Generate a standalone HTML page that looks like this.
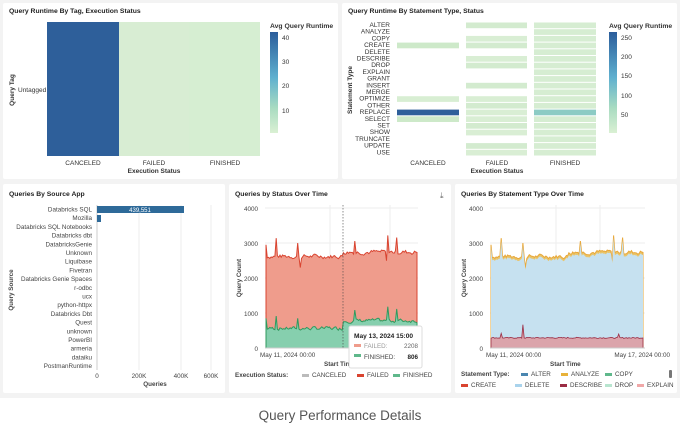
<!DOCTYPE html>
<html><head><meta charset="utf-8"><style>
html,body{margin:0;padding:0;background:#fff;}
svg{display:block;font-family:"Liberation Sans",sans-serif;}
</style></head><body>
<svg id="s" width="680" height="425" viewBox="0 0 680 425" xmlns="http://www.w3.org/2000/svg">
<rect x="0" y="0" width="680" height="398" fill="#f3f3f3"/>
<rect x="3" y="3" width="335" height="176" fill="#fff" rx="2"/>
<rect x="342" y="3" width="335" height="176" fill="#fff" rx="2"/>
<rect x="3" y="184" width="222" height="209" fill="#fff" rx="2"/>
<rect x="229" y="184" width="222" height="209" fill="#fff" rx="2"/>
<rect x="455" y="184" width="222" height="209" fill="#fff" rx="2"/>
<defs><linearGradient id="cb" x1="0" y1="0" x2="0" y2="1">
<stop offset="0" stop-color="#2b5d9b"/><stop offset="0.45" stop-color="#5fb0cf"/><stop offset="0.75" stop-color="#a8dbc1"/><stop offset="1" stop-color="#daf0d3"/></linearGradient></defs>

<g font-size="6.5" fill="#333">
<text x="9" y="13" font-weight="bold" font-size="6.8" fill="#222">Query Runtime By Tag, Execution Status</text>
<rect x="47" y="22" width="72" height="134" fill="#2e5f9a"/>
<rect x="119" y="22" width="70" height="134" fill="#d8edd3"/>
<rect x="189" y="22" width="71" height="134" fill="#d6eed2"/>
<text x="18" y="92">Untagged</text>
<text transform="translate(14,90) rotate(-90)" text-anchor="middle" font-weight="bold">Query Tag</text>
<text x="83" y="165" text-anchor="middle">CANCELED</text>
<text x="154" y="165" text-anchor="middle">FAILED</text>
<text x="225" y="165" text-anchor="middle">FINISHED</text>
<text x="154" y="173" text-anchor="middle" font-weight="bold">Execution Status</text>
<text x="270" y="28" font-weight="bold" font-size="6.8">Avg Query Runtime</text>
<rect x="270" y="32" width="8" height="101" fill="url(#cb)"/>
<text x="282" y="40">40</text><text x="282" y="64">30</text><text x="282" y="88">20</text><text x="282" y="113">10</text>
</g>

<g font-size="6.5" fill="#333" id="tr">
<text x="348" y="13" font-weight="bold" font-size="6.8" fill="#222">Query Runtime By Statement Type, Status</text>
<text transform="translate(352,90) rotate(-90)" text-anchor="middle" font-weight="bold">Statement Type</text>
<text x="428" y="165" text-anchor="middle">CANCELED</text>
<text x="497" y="165" text-anchor="middle">FAILED</text>
<text x="565" y="165" text-anchor="middle">FINISHED</text>
<text x="497" y="173" text-anchor="middle" font-weight="bold">Execution Status</text>
<text x="609" y="28" font-weight="bold" font-size="6.8">Avg Query Runtime</text>
<rect x="609" y="32" width="8" height="101" fill="url(#cb)"/>
<text x="621" y="40">250</text><text x="621" y="59">200</text><text x="621" y="78">150</text><text x="621" y="98">100</text><text x="621" y="117">50</text>
</g>

<g font-size="6.3" fill="#444" id="bl">
<text x="9" y="196" font-weight="bold" font-size="6.8" fill="#222">Queries By Source App</text>
<line x1="139" y1="205" x2="139" y2="370" stroke="#eee"/>
<line x1="181" y1="205" x2="181" y2="370" stroke="#eee"/>
<line x1="211" y1="205" x2="211" y2="370" stroke="#eee"/>
<line x1="97" y1="205" x2="97" y2="370" stroke="#ccc"/>
<rect x="97" y="206" width="87" height="7" fill="#2e6a99"/>
<text x="140" y="212" fill="#fff" text-anchor="middle" font-size="6">439,551</text>
<rect x="97" y="215" width="4" height="7" fill="#2e6a99"/>
<text x="97" y="378" text-anchor="middle">0</text>
<text x="139" y="378" text-anchor="middle">200K</text>
<text x="181" y="378" text-anchor="middle">400K</text>
<text x="211" y="378" text-anchor="middle">600K</text>
<text x="155" y="386" text-anchor="middle" font-weight="bold">Queries</text>
<text transform="translate(13,290) rotate(-90)" text-anchor="middle" font-weight="bold">Query Source</text>
</g>

<g font-size="6.3" fill="#444">
<text x="235" y="196" font-weight="bold" font-size="6.8" fill="#222">Queries by Status Over Time</text>
<text x="440" y="198" font-size="8" fill="#666">⤓</text>
<g stroke="#eee"><line x1="265" y1="208" x2="418" y2="208"/><line x1="265" y1="243" x2="418" y2="243"/><line x1="265" y1="278" x2="418" y2="278"/><line x1="265" y1="313" x2="418" y2="313"/><line x1="330" y1="205" x2="330" y2="348"/><line x1="390" y1="205" x2="390" y2="348"/></g>
<path id="mRed" fill="#ef9c8c" stroke="#d94430" stroke-width="1"/>
<path id="mGreen" fill="#86cfae" stroke="#2f9a5e" stroke-width="1"/>
<line x1="265" y1="348" x2="418" y2="348" stroke="#ccc"/>
<line x1="343" y1="205" x2="343" y2="348" stroke="#444" stroke-width="0.6" stroke-dasharray="1.5,1.5"/>
<text x="258" y="211" text-anchor="end">4000</text><text x="258" y="246" text-anchor="end">3000</text><text x="258" y="281" text-anchor="end">2000</text><text x="258" y="316" text-anchor="end">1000</text><text x="258" y="351" text-anchor="end">0</text>
<text transform="translate(241,278) rotate(-90)" text-anchor="middle" font-weight="bold">Query Count</text>
<text x="260" y="357">May 11, 2024 00:00</text>
<text x="422" y="357" text-anchor="end">24 00:00</text>
<text x="324" y="366" font-weight="bold">Start Time</text>
<rect x="349" y="326" width="73" height="42" fill="#fff" stroke="#ddd" rx="2"/>
<text x="354" y="338" font-weight="bold" font-size="6.6" fill="#222">May 13, 2024 15:00</text>
<rect x="354" y="344" width="7" height="3" fill="#ef9c8c"/><text x="364" y="348" fill="#999">FAILED:</text><text x="418" y="348" text-anchor="end" fill="#666">2208</text>
<rect x="354" y="354" width="7" height="3" fill="#5fb88b"/><text x="364" y="359">FINISHED:</text><text x="418" y="359" text-anchor="end" font-weight="bold" fill="#222">806</text>
<text x="235" y="377" font-weight="bold">Execution Status:</text>
<rect x="302" y="374" width="7" height="3" fill="#bbb"/><text x="312" y="377">CANCELED</text>
<rect x="357" y="374" width="7" height="3" fill="#d94430"/><text x="367" y="377">FAILED</text>
<rect x="393" y="374" width="7" height="3" fill="#5fb88b"/><text x="403" y="377">FINISHED</text>
</g>

<g font-size="6.3" fill="#444">
<text x="461" y="196" font-weight="bold" font-size="6.8" fill="#222">Queries By Statement Type Over Time</text>
<g stroke="#eee"><line x1="490" y1="208" x2="645" y2="208"/><line x1="490" y1="243" x2="645" y2="243"/><line x1="490" y1="278" x2="645" y2="278"/><line x1="490" y1="313" x2="645" y2="313"/><line x1="556" y1="205" x2="556" y2="348"/><line x1="600" y1="205" x2="600" y2="348"/></g>
<path id="rOr" fill="#e9c46a" stroke="#e8a83a" stroke-width="1"/>
<path id="rBlue" fill="#c6e1f0"/>
<path id="rPink" fill="#dba4ab" stroke="#9b2c44" stroke-width="0.8"/>
<line x1="490" y1="348" x2="645" y2="348" stroke="#ccc"/>
<text x="483" y="211" text-anchor="end">4000</text><text x="483" y="246" text-anchor="end">3000</text><text x="483" y="281" text-anchor="end">2000</text><text x="483" y="316" text-anchor="end">1000</text><text x="483" y="351" text-anchor="end">0</text>
<text transform="translate(466,278) rotate(-90)" text-anchor="middle" font-weight="bold">Query Count</text>
<text x="486" y="357">May 11, 2024 00:00</text>
<text x="670" y="357" text-anchor="end">May 17, 2024 00:00</text>
<text x="550" y="366" font-weight="bold">Start Time</text>
<text x="461" y="376" font-weight="bold">Statement Type:</text>
<rect x="521" y="373" width="7" height="3" fill="#4a86b0"/><text x="531" y="376">ALTER</text>
<rect x="561" y="373" width="7" height="3" fill="#e8b23a"/><text x="571" y="376">ANALYZE</text>
<rect x="605" y="373" width="7" height="3" fill="#5fb88b"/><text x="615" y="376">COPY</text>
<rect x="669" y="370" width="3" height="8" fill="#777" rx="1"/>
<rect x="461" y="384" width="7" height="3" fill="#d94430"/><text x="471" y="387">CREATE</text>
<rect x="515" y="384" width="7" height="3" fill="#a9d3ec"/><text x="525" y="387">DELETE</text>
<rect x="560" y="384" width="7" height="3" fill="#9b2c44"/><text x="570" y="387">DESCRIBE</text>
<rect x="605" y="384" width="7" height="3" fill="#b8e5cf"/><text x="615" y="387">DROP</text>
<rect x="637" y="384" width="7" height="3" fill="#f0a8a8"/><text x="647" y="387">EXPLAIN</text>
</g>

<text x="340" y="420" text-anchor="middle" font-size="13.5" fill="#555">Query Performance Details</text>
</svg>
<script>
(function(){
var NS="http://www.w3.org/2000/svg",s=document.getElementById('s');
var rows=["ALTER","ANALYZE","COPY","CREATE","DELETE","DESCRIBE","DROP","EXPLAIN","GRANT","INSERT","MERGE","OPTIMIZE","OTHER","REPLACE","SELECT","SET","SHOW","TRUNCATE","UPDATE","USE"];
var g=document.getElementById('tr');
var h=6.7,y0=22;
var can={3:"#cde9c9",11:"#d8eed3",13:"#2e5f9a",14:"#cde9c9"};
var fail=[0,2,3,5,6,9,11,12,13,14,15,16,18,19];
function R(x,y,w,hh,f){var c=document.createElementNS(NS,'rect');c.setAttribute('x',x);c.setAttribute('y',y);c.setAttribute('width',w);c.setAttribute('height',hh);c.setAttribute('fill',f);g.appendChild(c);}
rows.forEach(function(r,i){
 var y=y0+i*h;
 var t=document.createElementNS(NS,'text');t.setAttribute('x',390);t.setAttribute('y',y+5);t.setAttribute('text-anchor','end');t.textContent=r;g.appendChild(t);
 if(can[i])R(397,y+0.5,62,h-1,can[i]);
 if(fail.indexOf(i)>=0)R(466,y+0.5,61,h-1,i%3?"#d9eed4":"#d3ebcf");
 R(534,y+0.5,62,h-1,i==13?"#8ccbc4":"#d6edd2");
});
var src=["Databricks SQL","Mozilla","Databricks SQL Notebooks","Databricks dbt","DatabricksGenie","Unknown","Liquibase","Fivetran","Databricks Genie Spaces","r-odbc","ucx","python-httpx","Databricks Dbt","Quest","unknown","PowerBI","armeria","dataiku","PostmanRuntime"];
var bl=document.getElementById('bl');
src.forEach(function(n,i){var t=document.createElementNS(NS,'text');t.setAttribute('x',92);t.setAttribute('y',211.5+i*8.7);t.setAttribute('text-anchor','end');t.textContent=n;bl.appendChild(t);});
var seed=7;function rnd(){seed=(seed*9301+49297)%233280;return seed/233280;}
var N=120,top=[],low=[];
var spikes={8:500,25:350,70:350,96:500,103:450};
var pt=0,pl=0;
for(var i=0;i<N;i++){pt=pt*0.5+(rnd()-0.5)*110;var b=2620+(i>60?120:0)+pt; if(spikes[i])b+=spikes[i]; if(i==27||i==95)b-=300; top.push(b);
 pl=pl*0.5+(rnd()-0.5)*90;var l=560+(i>60?220:0)+pl; if(spikes[i])l+=spikes[i]*0.8; low.push(l);}
top[0]=2950;low[0]=850;
function Y(v){return 348-v*0.035;}
function area(x0,x1,vals){var d="M"+x0+",348";for(var i=0;i<vals.length;i++){var x=x0+(x1-x0)*i/(vals.length-1);d+=" L"+x.toFixed(1)+","+Y(vals[i]).toFixed(1);}d+=" L"+x1+",348 Z";return d;}
document.getElementById('mRed').setAttribute('d',area(266,417,top));
document.getElementById('mGreen').setAttribute('d',area(266,417,low));
var blue=top.map(function(v){return v-70;}),pink=[];
for(var i=0;i<N;i++){pink.push(290+(rnd()-0.5)*30+(i==8?120:0)+(i==25?380:0)+(i==100?100:0));}
document.getElementById('rOr').setAttribute('d',area(491,643,top));
document.getElementById('rBlue').setAttribute('d',area(491,643,blue));
document.getElementById('rPink').setAttribute('d',area(491,643,pink));
})();
</script>
</body></html>
